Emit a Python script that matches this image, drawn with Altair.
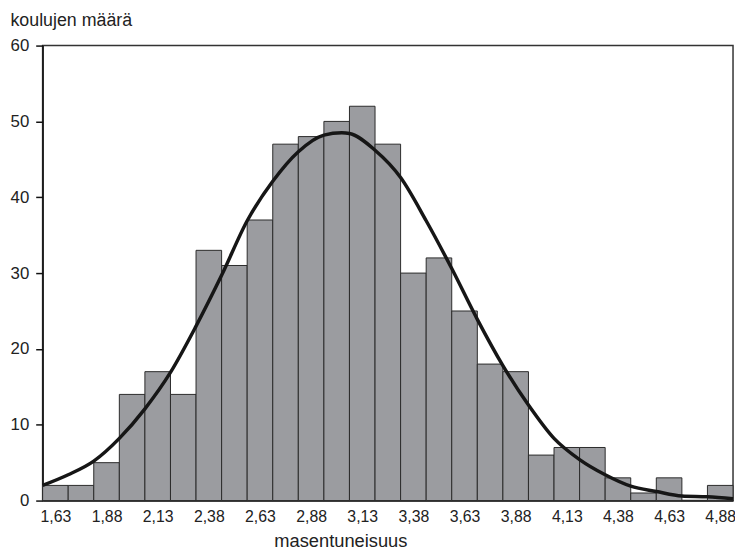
import altair as alt
import pandas as pd

# bin centres (value of masentuneisuus) and number of schools per bin
bin_centers = [1.63, 1.755, 1.88, 2.005, 2.13, 2.255, 2.38, 2.505, 2.63, 2.755,
               2.88, 3.005, 3.13, 3.255, 3.38, 3.505, 3.63, 3.755, 3.88, 4.005,
               4.13, 4.255, 4.38, 4.505, 4.63, 4.755, 4.88]
counts = [2, 2, 5, 14, 17, 14, 33, 31, 37, 47,
          48, 50, 52, 47, 30, 32, 25, 18, 17, 6,
          7, 7, 3, 1, 3, 0, 2]
bin_width = 0.125

# fitted curve
curve_x = [1.5675, 1.6925, 1.8175, 1.9425, 2.0675, 2.1925, 2.3175, 2.4425, 2.5675,
           2.6925, 2.8175, 2.9425, 3.03, 3.0675, 3.1925, 3.3175, 3.4425, 3.5675,
           3.6925, 3.8175, 3.9425, 4.0675, 4.1925, 4.3175, 4.4425, 4.5675, 4.6925,
           4.8175, 4.9425]
curve_y = [2.0, 3.4, 5.2, 8.2, 12.1, 16.9, 23.0, 29.7, 36.9,
           42.1, 46.0, 48.2, 48.5, 48.4, 46.2, 42.6, 36.9, 30.6,
           23.9, 17.8, 12.6, 8.2, 5.4, 3.4, 1.9, 1.2, 0.6,
           0.5, 0.25]

x_ticks = [1.63, 1.88, 2.13, 2.38, 2.63, 2.88, 3.13, 3.38, 3.63, 3.88, 4.13, 4.38, 4.63, 4.88]

bars = pd.DataFrame({"c": bin_centers, "n": counts})
bars["x0"] = bars["c"] - bin_width / 2
bars["x1"] = bars["c"] + bin_width / 2
curve = pd.DataFrame({"x": curve_x, "y": curve_y})

FONT = "Liberation Sans"

xscale = alt.Scale(domain=[1.5675, 4.9425], nice=False, zero=False)
yscale = alt.Scale(domain=[0, 60], nice=False)

xaxis = alt.Axis(
    values=x_ticks,
    labelExpr="replace(format(datum.value, '.2f'), '.', ',')",
    ticks=False,
    grid=False,
    labelFontSize=16,
    labelPadding=8,
    labelColor="#222",
    domainColor="#111",
    domainWidth=1.5,
    title="masentuneisuus",
    titleFontSize=18.5,
    titleFontWeight="normal",
    titleColor="#222",
    titleX=301,
    titleY=46,
    titleBaseline="alphabetic",
    titleAnchor="middle",
    titleAlign="center",
)

yaxis = alt.Axis(
    values=[0, 10, 20, 30, 40, 50, 60],
    grid=False,
    tickSize=7,
    tickColor="#111",
    tickWidth=1.5,
    labelFontSize=17,
    labelPadding=7,
    labelColor="#222",
    domainColor="#111",
    domainWidth=1.5,
    title="koulujen määrä",
    titleAngle=0,
    titleFontSize=18,
    titleFontWeight="normal",
    titleColor="#222",
    titleX=-33,
    titleY=-20,
    titleAlign="left",
    titleBaseline="alphabetic",
)

bar_layer = alt.Chart(bars).mark_rect(
    color="#9b9ca0", stroke="#2a2a2a", strokeWidth=1
).encode(
    x=alt.X("x0:Q", scale=xscale, axis=xaxis),
    x2="x1:Q",
    y=alt.Y("n:Q", scale=yscale, axis=yaxis),
    y2=alt.datum(0),
)

line_layer = alt.Chart(curve).mark_line(
    color="#161616", strokeWidth=3.5, interpolate="monotone"
).encode(
    x=alt.X("x:Q", scale=xscale),
    y=alt.Y("y:Q", scale=yscale),
)

chart = alt.layer(bar_layer, line_layer).properties(
    width=698,
    height=460,
    autosize=alt.AutoSizeParams(type="none"),
    padding={"left": 35, "top": 35, "right": 2, "bottom": 50},
).configure(
    font=FONT,
).configure_view(
    stroke="#333",
    strokeWidth=1.5,
)

chart.save("out.html", embed_options={"renderer": "svg", "actions": False})
